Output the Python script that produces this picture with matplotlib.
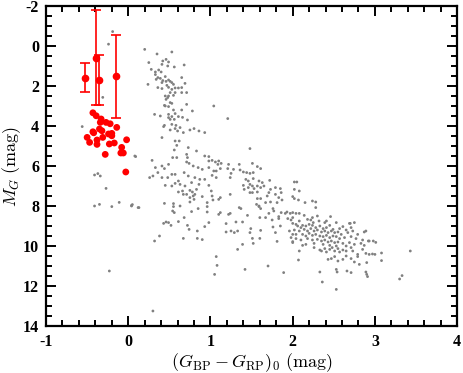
import numpy as np
import matplotlib
matplotlib.use("Agg")
import matplotlib.pyplot as plt
from matplotlib.ticker import MultipleLocator

plt.rcParams['mathtext.fontset'] = 'cm'
plt.rcParams['axes.unicode_minus'] = False

# ---- field stars (grey), (colour, M_G) pairs ----
gray_left = [(-0.56, 4.03), (-0.19, -0.72), (-0.24, -0.09), (-0.31, 2.57), (0.08, 5.50),
             (-0.41, 6.45), (-0.37, 6.38), (-0.34, 6.50), (-0.27, 7.12), (-0.41, 8.00),
             (-0.35, 7.92), (-0.20, 8.03), (-0.11, 7.82), (0.04, 7.97), (0.12, 8.08),
             (-0.23, 11.25), (0.30, 13.25)]

gray_upper = [(0.20, 0.17), (0.35, 0.40), (0.53, 0.30), (0.42, 0.75), (0.46, 0.67), (0.49, 0.80),
              (0.25, 0.83), (0.41, 0.92), (0.48, 1.00), (0.56, 1.05), (0.68, 0.95), (0.28, 1.17),
              (0.33, 1.30), (0.37, 1.20), (0.40, 1.30), (0.33, 1.43), (0.36, 1.58), (0.39, 1.62),
              (0.34, 1.67), (0.45, 1.53), (0.65, 1.58), (0.42, 1.73), (0.46, 1.77), (0.49, 1.70),
              (0.51, 1.77), (0.53, 1.83), (0.55, 1.92), (0.41, 1.83), (0.24, 1.92), (0.69, 1.87),
              (0.47, 1.97), (0.49, 2.07), (0.57, 2.10), (0.61, 2.10), (0.65, 2.08), (0.36, 2.08),
              (0.41, 2.13), (0.53, 2.17), (0.51, 2.33), (0.57, 2.33), (0.65, 2.33), (0.71, 2.33),
              (0.45, 2.50), (0.49, 2.50), (0.55, 2.47), (0.46, 2.67), (0.48, 2.58), (0.51, 2.83),
              (0.71, 2.92), (0.53, 2.87), (0.45, 3.00), (0.49, 3.03), (0.44, 2.97), (0.55, 3.20),
              (0.65, 3.20), (0.78, 3.25), (0.32, 3.42), (0.39, 3.50), (0.49, 3.42), (0.57, 3.38),
              (0.61, 3.53), (0.53, 3.53), (0.49, 3.58), (0.51, 3.67), (0.56, 3.67), (0.66, 3.57),
              (0.72, 3.70), (0.44, 3.97), (0.53, 3.92), (0.58, 3.97), (1.04, 3.00), (1.21, 3.63)]

gray_blue_ms = [(0.43, 4.03), (0.51, 4.20), (0.57, 4.13), (0.60, 4.25), (0.63, 4.08), (0.67, 4.33),
                (0.75, 4.20), (0.80, 4.13), (0.86, 4.25), (0.93, 4.33), (0.41, 4.58), (0.57, 4.75),
                (0.62, 4.75), (0.59, 4.97), (0.73, 5.08), (0.56, 5.20), (0.83, 5.25), (0.71, 5.42),
                (0.09, 5.53), (0.54, 5.58), (0.59, 5.58), (0.72, 5.58), (0.93, 5.50), (0.98, 5.53),
                (0.98, 5.75), (0.29, 5.72), (0.41, 6.00), (0.33, 6.08), (0.44, 6.13), (0.49, 5.92),
                (0.71, 5.80), (0.74, 5.87), (0.79, 6.00), (0.85, 6.08), (0.90, 6.17), (0.98, 6.08),
                (0.36, 6.33), (0.30, 6.50), (0.41, 6.58), (0.48, 6.58), (0.53, 6.42), (0.57, 6.42),
                (0.68, 6.33), (0.73, 6.50), (0.81, 6.58), (0.87, 6.67), (0.93, 6.67), (0.26, 6.58),
                (0.61, 6.75), (0.57, 6.87), (0.63, 6.92), (0.53, 7.00), (0.69, 7.00), (0.45, 6.97),
                (0.77, 6.83), (0.86, 6.92), (0.98, 6.97), (0.61, 7.30), (0.66, 7.25), (0.71, 7.42),
                (0.75, 7.22), (0.78, 7.30), (0.81, 7.42), (0.83, 7.17), (0.79, 7.50), (0.75, 7.58),
                (0.80, 7.67), (0.67, 7.42), (0.90, 7.53), (0.96, 7.83), (0.44, 7.87), (0.55, 7.88),
                (0.75, 7.80), (0.05, 7.93), (0.63, 8.00)]

gray_blue_low = [(0.04, 8.00), (0.13, 8.08), (0.55, 8.03), (0.54, 8.25), (0.56, 8.33), (0.77, 8.28),
                 (0.85, 8.13), (0.96, 8.30), (0.96, 8.03), (0.43, 8.87), (0.46, 8.80), (0.49, 8.83),
                 (0.52, 8.97), (0.61, 8.78), (0.68, 8.58), (0.72, 8.97), (0.74, 9.17), (0.98, 8.83),
                 (0.93, 9.03), (0.84, 9.25), (0.38, 9.50), (0.32, 9.75), (0.67, 9.62), (0.84, 9.62),
                 (0.90, 9.68)]

gray_mid = [(1.48, 5.13), (1.02, 5.72), (1.06, 5.80), (1.10, 5.75), (1.09, 5.92), (1.13, 5.87),
            (1.22, 5.92), (1.35, 5.92), (1.51, 5.87), (1.57, 6.03), (1.61, 6.13), (1.07, 6.25),
            (1.04, 6.25), (1.12, 6.13), (1.21, 6.13), (1.28, 6.17), (1.36, 6.20), (1.40, 6.30),
            (1.44, 6.33), (1.48, 6.37), (1.52, 6.33), (1.25, 6.37), (1.02, 6.47), (1.07, 6.58),
            (1.24, 6.58), (1.43, 6.67), (1.52, 6.63), (1.46, 6.75), (1.59, 6.75), (1.72, 6.72),
            (1.63, 6.83), (1.48, 6.92), (1.51, 7.00), (1.57, 7.00), (1.40, 6.97), (1.46, 7.08),
            (1.41, 7.17), (1.53, 7.13), (1.61, 7.08), (1.65, 7.00), (1.73, 7.17), (1.79, 7.08),
            (1.85, 7.13), (1.01, 7.25), (1.57, 7.30), (1.51, 7.33), (1.48, 7.33), (1.24, 7.42),
            (1.71, 7.33), (1.69, 7.50), (1.79, 7.42), (1.86, 7.33), (1.02, 7.50), (1.61, 7.63),
            (1.57, 7.63), (1.83, 7.58), (1.12, 7.58), (1.10, 7.67), (1.03, 7.70), (1.56, 7.92),
            (1.67, 7.83), (1.73, 7.80), (1.81, 7.83), (1.87, 7.70), (2.00, 7.53), (1.59, 8.00)]

gray_mid_low = [(1.10, 8.42), (1.12, 8.33), (1.22, 8.42), (1.24, 8.37), (1.35, 8.08), (1.37, 8.13),
                (1.45, 8.47), (1.59, 8.03), (1.61, 8.13), (1.60, 8.58), (1.67, 8.58), (1.71, 8.37),
                (1.76, 8.13), (1.77, 8.25), (1.75, 8.70), (1.83, 8.53), (1.83, 8.63), (1.86, 8.33),
                (1.91, 8.37), (1.93, 8.30), (1.97, 8.37), (1.94, 8.63), (1.98, 8.70), (2.00, 8.87),
                (1.19, 8.88), (1.31, 8.80), (1.39, 8.80), (1.85, 9.00), (1.76, 9.05), (1.96, 9.25),
                (2.00, 9.42), (1.98, 9.58), (1.49, 9.13), (1.48, 9.33), (1.61, 9.22), (1.19, 9.30),
                (1.25, 9.25), (1.29, 9.33), (1.33, 9.25), (1.60, 9.62), (1.51, 9.62), (1.52, 9.87),
                (1.79, 9.33), (1.81, 9.77), (2.00, 9.78), (1.39, 9.92), (1.33, 10.17), (1.07, 10.53),
                (1.08, 10.97), (1.05, 11.42), (1.42, 11.17), (1.70, 11.00), (1.89, 11.33)]

gray_red_ms = [(2.02, 6.80), (2.05, 6.80), (2.02, 7.17), (2.08, 7.25), (2.02, 7.63), (2.07, 7.70),
               (2.15, 7.83), (2.24, 7.75), (2.28, 7.80), (2.28, 8.08), (2.00, 8.33), (2.04, 8.37),
               (2.08, 8.37), (2.00, 8.58), (2.14, 8.47), (2.24, 8.58), (2.30, 8.50), (2.46, 8.53),
               (2.08, 8.75), (2.18, 8.67), (2.22, 8.70), (2.25, 8.83), (2.32, 8.75), (2.39, 8.83),
               (2.41, 8.75), (2.53, 8.83), (2.70, 8.87), (2.75, 8.83), (2.04, 8.92), (2.12, 8.97),
               (2.06, 9.00), (2.10, 9.08), (2.16, 9.00), (2.20, 8.92), (2.24, 8.97), (2.28, 9.08),
               (2.33, 9.00), (2.37, 9.13), (2.41, 9.08), (2.45, 8.97), (2.49, 9.17), (2.57, 9.13),
               (2.61, 9.03), (2.65, 9.20), (2.71, 9.08), (2.02, 9.20), (2.08, 9.25), (2.14, 9.17),
               (2.18, 9.25), (2.22, 9.13), (2.26, 9.25), (2.30, 9.20), (2.35, 9.30), (2.39, 9.25),
               (2.43, 9.33), (2.47, 9.25), (2.51, 9.33), (2.55, 9.30), (2.59, 9.42), (2.67, 9.33),
               (2.73, 9.25), (2.79, 9.42), (2.87, 9.30), (2.04, 9.42), (2.12, 9.42), (2.16, 9.50),
               (2.20, 9.37), (2.24, 9.47), (2.28, 9.42), (2.33, 9.50), (2.37, 9.53), (2.41, 9.47),
               (2.45, 9.58), (2.49, 9.50), (2.53, 9.53), (2.57, 9.63), (2.63, 9.58), (2.71, 9.53),
               (2.77, 9.63), (2.85, 9.70), (2.93, 9.75), (2.04, 9.63), (2.10, 9.70), (2.18, 9.63),
               (2.24, 9.70), (2.30, 9.67), (2.35, 9.75), (2.39, 9.70), (2.43, 9.80), (2.47, 9.75),
               (2.51, 9.83), (2.55, 9.80), (2.61, 9.87), (2.69, 9.83), (2.75, 9.92), (2.83, 9.87),
               (2.16, 9.92), (2.26, 9.87), (2.37, 9.92), (2.45, 9.97), (2.53, 10.00), (2.65, 10.00),
               (2.87, 9.97), (2.98, 9.75), (2.00, 9.83), (2.12, 9.97), (2.69, 8.87), (2.89, 9.25)]

gray_red_low = [(2.08, 10.25), (2.07, 10.70), (2.26, 10.08), (2.33, 10.20), (2.35, 10.25),
                (2.39, 10.13), (2.41, 10.30), (2.45, 10.17), (2.48, 10.08), (2.51, 10.25),
                (2.55, 10.13), (2.57, 10.30), (2.61, 10.20), (2.65, 10.25), (2.71, 10.08),
                (2.73, 10.25), (2.79, 10.42), (2.85, 10.17), (2.89, 10.37), (2.93, 10.42),
                (3.00, 10.42), (2.43, 10.67), (2.47, 10.63), (2.51, 10.53), (2.55, 10.75),
                (2.61, 10.67), (2.65, 10.50), (2.71, 10.63), (2.75, 10.80), (2.79, 10.53),
                (2.81, 10.92), (2.90, 10.83), (2.71, 11.33), (2.66, 11.25), (2.53, 11.17),
                (2.54, 11.30), (2.33, 11.30), (2.36, 11.80), (2.53, 12.17), (2.89, 11.30),
                (2.90, 11.42), (2.91, 11.53), (3.08, 10.35), (3.08, 10.73), (3.01, 9.82),
                (2.92, 9.75), (3.30, 11.65), (3.33, 11.48), (3.43, 10.25), (2.97, 10.40)]

# ---- candidates (red) ----
red_color = [-0.43, -0.39, -0.33, -0.34, -0.27, -0.22, -0.14, -0.35, -0.32, -0.43, -0.42,
             -0.24, -0.20, -0.20, -0.50, -0.31, -0.38, -0.02, -0.47, -0.17, -0.38, -0.23,
             -0.08, -0.09, -0.06, -0.28, -0.03]
red_mag = [3.34, 3.49, 3.65, 3.82, 3.82, 3.89, 4.07, 4.15, 4.24, 4.29, 4.34,
           4.40, 4.37, 4.49, 4.57, 4.57, 4.70, 4.69, 4.82, 4.85, 4.92, 4.90,
           5.07, 5.35, 5.35, 5.42, 6.30]

# candidates with parallax-based errors
err_color = [-0.52, -0.39, -0.36, -0.15]
err_mag = [1.58, 0.58, 1.70, 1.52]
err_mag_e = [0.72, 2.38, 1.25, 2.07]

gray = np.array(gray_left + gray_upper + gray_blue_ms + gray_blue_low + gray_mid
                + gray_mid_low + gray_red_ms + gray_red_low)

fig = plt.figure(figsize=(4.63, 3.73), dpi=100)
ax = fig.add_axes([0.0994, 0.126, 0.888, 0.858])

ax.scatter(gray[:, 0], gray[:, 1], s=4, c='#808080', edgecolors='none', zorder=2)
ax.errorbar(err_color, err_mag, yerr=err_mag_e, fmt='o', color='#ff0000', ms=4.5,
            elinewidth=1.2, capsize=3.5, capthick=1.2, zorder=3)
ax.scatter(red_color, red_mag, s=24, c='#ff0000', edgecolors='none', zorder=4)

ax.set_xlim(-1, 4)
ax.set_ylim(14, -2)
ax.xaxis.set_major_locator(MultipleLocator(1))
ax.xaxis.set_minor_locator(MultipleLocator(0.2))
ax.yaxis.set_major_locator(MultipleLocator(2))
ax.yaxis.set_minor_locator(MultipleLocator(0.5))
ax.tick_params(which='both', direction='in', top=True, right=True, width=1.4)
ax.tick_params(which='major', length=7)
ax.tick_params(which='minor', length=4)
ax.tick_params(axis='x', pad=6)
ax.tick_params(axis='y', pad=5)
for lab in ax.get_xticklabels() + ax.get_yticklabels():
    lab.set_fontfamily('Liberation Serif')
    lab.set_fontweight('bold')
    lab.set_fontsize(11.5)
for sp in ax.spines.values():
    sp.set_linewidth(1.6)

ax.set_xlabel(r'$(G_{\rm BP}-G_{\rm RP})_0\ (\rm mag)$', fontsize=13)
ax.set_ylabel(r'$M_G\ (\rm mag)$', fontsize=13)
ax.xaxis.set_label_coords(0.5, -0.08)
ax.yaxis.set_label_coords(-0.056, 0.5)

fig.savefig('out.png', dpi=100)
